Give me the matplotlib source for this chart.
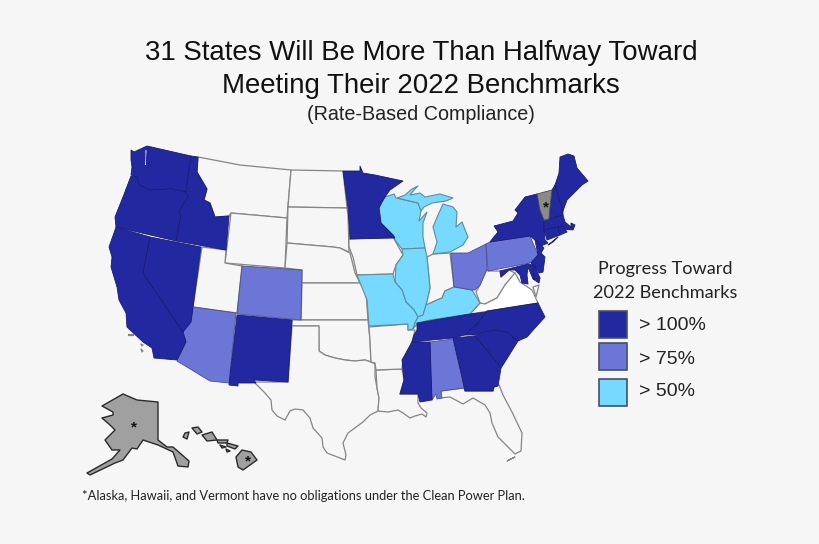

import matplotlib
matplotlib.use("Agg")
import matplotlib.pyplot as plt
from matplotlib.patches import Polygon, Rectangle

BACKGROUND = "#f6f6f6"
DARK_BLUE = "#2229a0"
MID_BLUE = "#6c76d6"
LIGHT_BLUE = "#76d9ff"
GRAY = "#a0a0a0"
VT_GRAY = "#8a8a8a"

title_lines = ["31 States Will Be More Than Halfway Toward", "Meeting Their 2022 Benchmarks"]
subtitle = "(Rate-Based Compliance)"
legend_title = ["Progress Toward", "2022 Benchmarks"]
legend_labels = ["> 100%", "> 75%", "> 50%"]
footnote = "*Alaska, Hawaii, and Vermont have no obligations under the Clean Power Plan."

# state outlines, in picture pixels
WA = [(131, 150), (134, 152), (147, 146), (191, 156), (186, 192), (172, 189), (150, 190), (139, 185), (137, 177), (131, 175), (132, 167), (131, 160)]
OR = [(131, 176), (137, 177), (139, 185), (150, 190), (172, 189), (186, 192), (188, 197), (179, 212), (181, 215), (176, 241), (116, 227), (115, 217), (123, 197)]
ID = [(191, 156), (198, 157), (197, 172), (207, 189), (204, 200), (210, 203), (215, 217), (229, 216), (226, 250), (176, 241), (181, 215), (179, 212), (188, 197), (186, 192)]
MT = [(198, 157), (240, 165), (291, 170), (287, 218), (231, 213), (229, 216), (215, 217), (210, 203), (204, 200), (207, 189), (197, 172)]
WY = [(231, 213), (287, 218), (285, 268), (225, 263)]
ND = [(291, 170), (343, 171), (347, 208), (288, 207)]
SD = [(288, 207), (347, 208), (348, 215), (349, 252), (340, 248), (333, 247), (287, 243)]
NE = [(287, 243), (333, 247), (340, 248), (350, 253), (355, 273), (360, 283), (302, 283), (302, 270), (285, 268)]
KS = [(302, 283), (360, 283), (366, 292), (368, 320), (301, 320)]
CO = [(242, 266), (302, 270), (301, 320), (237, 314)]
UT = [(202, 247), (226, 250), (225, 263), (242, 266), (237, 313), (193, 307)]
NV = [(150, 237), (201, 247), (193, 307), (191, 322), (183, 332), (143, 273)]
CA = [(116, 227), (150, 237), (143, 273), (183, 332), (186, 342), (177, 360), (154, 358), (152, 348), (143, 342), (127, 327), (126, 313), (119, 300), (117, 287), (111, 267), (112, 257), (109, 247), (115, 230)]
AZ = [(193, 307), (236, 313), (229, 383), (210, 381), (177, 361), (186, 342), (183, 332), (185, 320), (191, 322)]
NM = [(237, 315), (292, 320), (288, 382), (254, 380), (256, 383), (238, 383), (238, 386), (229, 385)]
OK = [(292, 320), (368, 320), (370, 340), (371, 362), (365, 360), (355, 361), (345, 360), (335, 358), (325, 355), (319, 351), (318.7, 326), (292, 326)]
TX = [(292, 326), (319, 326), (319, 351), (325, 355), (335, 358), (345, 360), (355, 361), (365, 360), (371, 362), (375, 364), (375, 377), (377, 388), (379, 398), (378, 411), (370, 415), (363, 422), (348, 433), (343, 443), (346, 455), (345, 460), (340, 458), (327, 453), (323, 447), (322, 438), (313, 428), (310, 418), (303, 410), (295, 409), (290, 411), (285, 420), (277, 416), (272, 410), (271, 400), (265, 393), (254, 382), (288, 382)]
LA = [(376, 370), (402, 369), (404, 380), (400, 394), (418, 394), (418, 403), (421, 408), (427, 413), (426, 417), (422, 414), (415, 416), (410, 418), (403, 413), (398, 410), (388, 412), (378, 411), (379, 398), (377, 388)]
AR = [(369, 327), (408, 324), (408, 330), (415, 330), (412, 342), (403, 360), (402, 369), (376, 370), (375, 363), (371, 362), (370, 340)]
MO = [(357, 275), (393, 274), (395, 282), (402, 290), (406, 302), (414, 310), (418, 317), (415, 323), (413, 329), (408, 330), (408, 324), (369, 326), (367, 300)]
IA = [(349, 239), (393, 237), (403, 255), (396, 265), (393, 274), (357, 275), (353, 257), (349, 247)]
MN = [(343, 171), (360, 171), (360, 166), (363, 173), (375, 175), (403, 181), (390, 190), (385, 197), (382, 202), (379, 208), (381, 223), (393, 235), (395, 238), (350, 239), (348, 208)]
WI = [(382, 202), (385, 197), (394, 194), (396, 198), (418, 203), (421, 211), (419, 221), (427, 212), (423, 223), (423, 237), (425, 248), (402, 249), (395, 240), (393, 235), (381, 223), (379, 208)]
MI_UPPER = [(397, 198), (405, 195), (412, 189), (418, 186), (414, 190), (410, 195), (420, 193), (425, 197), (440, 194), (453, 198), (446, 201), (432, 203), (424, 207), (421, 211), (418, 203)]
MI_LOWER = [(443, 204), (453, 207), (457, 212), (456, 227), (462, 222), (468, 237), (463, 245), (450, 252), (433, 254), (437, 242), (433, 227), (438, 215)]
IL = [(402, 249), (425, 248), (427, 257), (430, 288), (426, 305), (423, 315), (418, 317), (414, 310), (406, 302), (402, 290), (395, 282), (396, 265), (403, 255)]
IN = [(427, 257), (433, 254), (450, 253), (454, 287), (445, 291), (442, 298), (437, 300), (426, 305), (430, 288)]
OH = [(451, 253), (468, 253), (486, 244), (487, 269), (480, 285), (475, 290), (472, 290), (455, 287), (454, 287)]
KY = [(454, 287), (472, 290), (475, 295), (480, 303), (470, 314), (430, 320), (418, 323), (413, 329), (415, 323), (418, 317), (423, 315), (426, 305), (437, 300), (442, 298), (445, 291)]
PA = [(486, 244), (490, 242), (530, 236), (538, 255), (530, 263), (488, 271)]
NY = [(493, 238), (498, 232), (494, 226), (513, 221), (518, 213), (515, 210), (525, 197), (537, 194), (540, 210), (544, 220), (544, 230), (545, 240), (548, 243), (541, 246), (535, 240), (530, 236), (490, 242)]
LONG_ISLAND = [(548, 245), (558, 237), (553, 242)]
VT = [(537, 194), (552, 190), (550, 207), (549, 219), (544, 220), (540, 210)]
NH = [(555, 185), (563, 211), (563, 215), (549, 219), (550, 207), (552, 190)]
ME = [(555, 185), (559, 173), (560, 157), (568, 154), (574, 156), (577, 168), (588, 181), (582, 185), (575, 192), (567, 200), (563, 211)]
MA = [(544, 221), (563, 215), (565, 222), (571, 227), (571, 223), (575, 225), (573, 230), (563, 229), (561, 226), (544, 230)]
CT = [(544, 230), (558, 227), (560, 235), (547, 240)]
RI = [(558, 227), (563, 226), (567, 232), (560, 235)]
NJ = [(535, 240), (544, 248), (541, 253), (545, 257), (543, 272), (539, 273), (535, 267), (531, 263), (538, 255)]
DE = [(533, 265), (535, 267), (540, 278), (534, 279)]
MD = [(500, 271), (528, 264), (533, 265), (534, 279), (540, 278), (539, 283), (533, 279), (528, 267), (527, 275), (528, 284), (522, 283), (520, 275), (515, 270), (509, 270), (501, 277)]
WV = [(488, 271), (500, 271), (501, 277), (509, 270), (515, 273), (505, 285), (497, 298), (485, 304), (480, 303), (476, 292), (480, 285), (487, 269)]
VA = [(470, 314), (480, 303), (485, 304), (497, 298), (505, 285), (515, 273), (520, 282), (532, 290), (538, 303)]
VA_SHORE = [(533, 287), (539, 285), (536, 297)]
NC = [(487, 311), (538, 303), (545, 317), (535, 328), (527, 337), (518, 341), (507, 332), (495, 330), (483, 332), (475, 335), (465, 335), (478, 323)]
TN = [(417, 323), (470, 314), (487, 312), (478, 323), (465, 335), (453, 338), (412, 342), (414, 335), (417, 330)]
SC = [(475, 336), (483, 332), (495, 330), (507, 332), (518, 341), (503, 365), (501, 368), (487, 350)]
GA = [(453, 338), (475, 336), (487, 350), (501, 368), (498, 386), (494, 387), (493, 391), (465, 391), (462, 377)]
AL = [(430, 342), (453, 339), (462, 377), (464, 388), (441, 391), (442, 398), (437, 399), (436, 394), (432, 400), (430, 367)]
MS = [(412, 342), (430, 342), (432, 400), (420, 402), (418, 394), (400, 394), (404, 380), (402, 360)]
FL = [(441, 391), (464, 388), (465, 391), (493, 391), (494, 387), (499, 385), (503, 395), (512, 412), (522, 433), (521, 451), (515, 454), (508, 447), (498, 437), (492, 423), (490, 413), (485, 405), (473, 398), (463, 404), (450, 397), (440, 398)]
FL_KEYS = [(507, 461), (515, 457), (509, 460)]
CA_ISLAND_A = [(128, 334), (133, 334), (133, 335), (128, 335)]
CA_ISLAND_B = [(141, 344), (143, 345), (142, 346)]
CA_ISLAND_C = [(141, 349), (143, 351), (142, 352)]
PUGET = [(145.5, 150), (146.5, 150), (146, 158), (146, 165), (145, 165), (145.5, 158)]
AK = [(123, 394), (137, 400), (158, 402), (158, 440), (167, 447), (173, 447), (189, 461), (188, 467), (178, 466), (173, 452), (158, 445), (143, 440), (137, 449), (132, 448), (123, 460), (115, 463), (90, 475), (87, 473), (112, 459), (120, 450), (112, 450), (105, 440), (115, 430), (110, 425), (102, 418), (113, 415), (113, 412), (102, 406)]
HI_BIG = [(242, 450), (251, 452), (257, 460), (243, 470), (238, 467), (236, 457)]
HI_MAUI = [(227, 443), (238, 446), (235, 449), (227, 446)]
HI_MOLOKAI = [(217, 440), (228, 440), (227, 443), (218, 443)]
HI_OAHU = [(202, 435), (212, 432), (217, 440), (207, 441)]
HI_KAUAI = [(192, 428), (198, 427), (202, 432), (197, 434)]
HI_NIIHAU = [(185, 433), (189, 432), (187, 439), (183, 437)]
HI_LANAI = [(220, 445), (226, 447), (222, 448)]
HI_KAHOOLAWE = [(226, 449), (230, 451), (227, 452)]

# progress groups
over_100 = [WA, OR, ID, CA, NV, NM, MN, MS, TN, GA, SC, NC, NY, LONG_ISLAND, NH, ME, MA, CT, RI, NJ, DE, MD]
over_75 = [CO, AZ, AL, OH, PA]
over_50 = [WI, MI_UPPER, MI_LOWER, IL, MO, KY]
no_target = [MT, WY, ND, SD, NE, KS, UT, OK, TX, LA, AR, IA, IN, WV, FL, FL_KEYS, VA_SHORE, CA_ISLAND_A, CA_ISLAND_B, CA_ISLAND_C]
white_fill = [VA]
no_obligation = [AK, HI_BIG, HI_MAUI, HI_MOLOKAI, HI_OAHU, HI_KAUAI, HI_NIIHAU, HI_LANAI, HI_KAHOOLAWE]
asterisks = [(134, 425), (248, 459), (546, 205)]


def draw_states(ax, outlines, color, edge, lw=0.6):
    for outline in outlines:
        ax.add_patch(Polygon(outline, closed=True, facecolor=color, edgecolor=edge, linewidth=lw, joinstyle="round"))


fig = plt.figure(figsize=(8.2, 5.44), dpi=100, facecolor=BACKGROUND)
ax = fig.add_axes([0, 0, 1, 1])
ax.set_xlim(0, 820)
ax.set_ylim(544, 0)
ax.axis("off")

draw_states(ax, no_target, BACKGROUND, "#858585", lw=0.9)
draw_states(ax, white_fill, "#ffffff", "#8a8a8a", lw=0.9)
draw_states(ax, over_50, LIGHT_BLUE, "#5f8c9c", lw=0.8)
draw_states(ax, over_75, MID_BLUE, "#4a5090")
draw_states(ax, over_100, DARK_BLUE, "#181c70")
draw_states(ax, [PUGET], BACKGROUND, "none", lw=0)
draw_states(ax, [VT], VT_GRAY, "#4a4a4a")
draw_states(ax, no_obligation, GRAY, "#2a2a2a", lw=1.0)

sans = "Liberation Sans"
for x, y in asterisks:
    ax.text(x, y + 2, "*", fontsize=11, ha="center", va="center", color="#111111", family=sans, fontweight="bold")

ax.text(421, 53, title_lines[0], fontsize=19.9, ha="center", va="center", color="#111111", family=sans)
ax.text(421, 86, title_lines[1], fontsize=19.9, ha="center", va="center", color="#111111", family=sans)
ax.text(421, 115, subtitle, fontsize=14.2, ha="center", va="center", color="#222222", family=sans)

ax.text(665, 269, legend_title[0], fontsize=13.1, ha="center", va="center", color="#222222", family="Lato")
ax.text(665, 293, legend_title[1], fontsize=13.1, ha="center", va="center", color="#222222", family="Lato")

swatch_tops = [311, 343, 379]
swatch_colors = [DARK_BLUE, MID_BLUE, LIGHT_BLUE]
label_ys = [325, 360, 392]
for top, color, label, label_y in zip(swatch_tops, swatch_colors, legend_labels, label_ys):
    ax.add_patch(Rectangle((599, top), 28.5, 26.5, facecolor=color, edgecolor="#44506a", linewidth=1.2))
    ax.text(639, label_y, label, fontsize=14, ha="left", va="center", color="#222222", family=sans)

ax.text(82, 496, footnote, fontsize=9.3, ha="left", va="center", color="#222222", family="Lato")

fig.savefig("out.png", dpi=100, facecolor=BACKGROUND)
